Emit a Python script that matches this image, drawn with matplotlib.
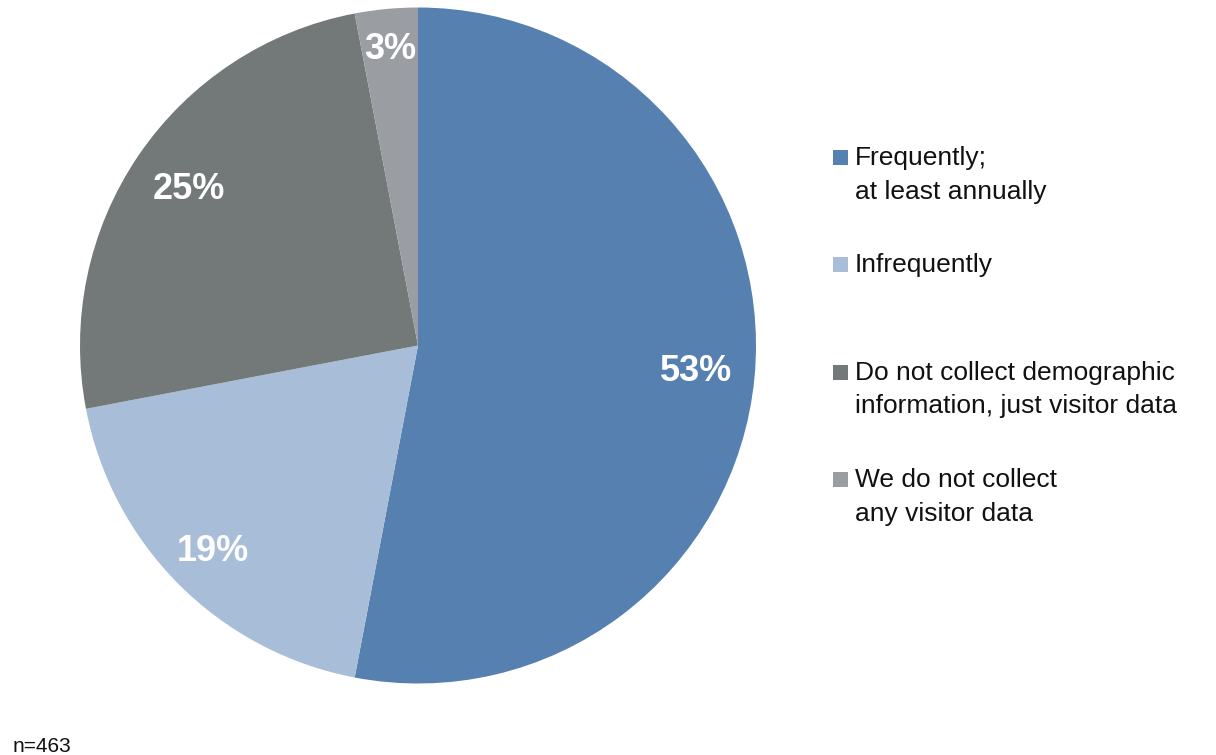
import numpy as np
import matplotlib
matplotlib.use('agg')
from matplotlib import pyplot as plt
from matplotlib.patches import Rectangle

plt.rcParams["font.family"] = ["Liberation Sans", "DejaVu Sans"]

labels = ['Frequently;\nat least annually', 'Infrequently',
          'Do not collect demographic\ninformation, just visitor data',
          'We do not collect\nany visitor data']
shares = [53, 19, 25, 3]
colors = ['#5580B0', '#A8BDD7', '#737979', '#9A9EA2']
# radial position of each percent label (fraction of radius)
label_r = [0.825, 0.86, 0.82, 0.88]

W, H = 1216, 755
fig = plt.figure(figsize=(W / 100, H / 100), dpi=100)

# pie: centre (418, 345) px, radius 338 px
cx, cy, r = 418, 345.5, 338
ax = fig.add_axes([(cx - r) / W, (H - cy - r) / H, 2 * r / W, 2 * r / H])
wedges, _ = ax.pie(shares, colors=colors, startangle=90, counterclock=False,
                   wedgeprops=dict(linewidth=0))
for w, s, d in zip(wedges, shares, label_r):
    mid = np.deg2rad((w.theta1 + w.theta2) / 2)
    ax.text(d * np.cos(mid), d * np.sin(mid), f'{s}%', color='white',
            fontsize=26, fontweight='bold', ha='center', va='center')
ax.set_xlim(-1, 1)
ax.set_ylim(-1, 1)
ax.set_aspect('equal')
ax.axis('off')

# legend drawn by hand, first-line baselines in px
baselines = [165, 272, 380, 487]
for lab, col, yb in zip(labels, colors, baselines):
    fig.patches.append(Rectangle((833 / W, (H - yb) / H), 15 / W, 15 / H,
                                 transform=fig.transFigure, facecolor=col,
                                 edgecolor='none'))
    for i, line in enumerate(lab.split('\n')):
        fig.text(855 / W, (H - yb - i * 33.5) / H, line, fontsize=19,
                 va='baseline', ha='left', color='#111111')

fig.text(13 / W, (H - 752) / H, 'n=463', fontsize=15, va='baseline',
         ha='left', color='#111111')

plt.savefig('out.png', dpi=100)
plt.close()
